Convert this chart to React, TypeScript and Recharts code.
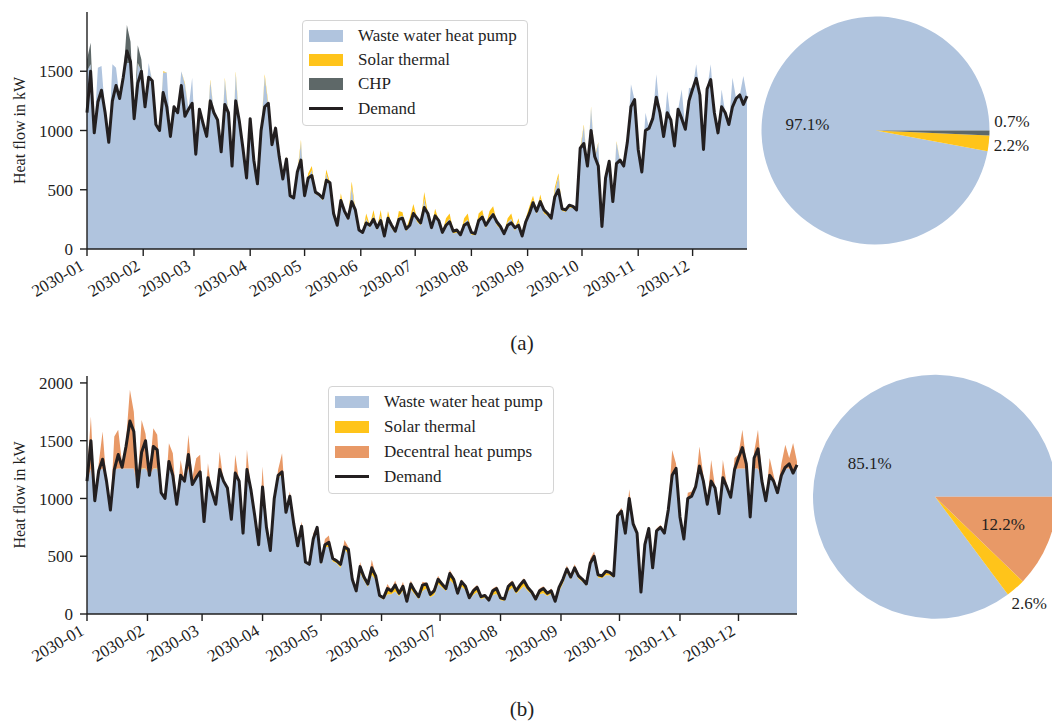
import React from "react";
import {
  ComposedChart,
  Area,
  Line,
  XAxis,
  YAxis,
  PieChart,
  Pie,
  Cell,
} from "recharts";

const FONT = '"Liberation Serif", "Times New Roman", serif';
const INK = "#1f1f1f";

const COLORS = {
  hp: "#b0c4de",
  solar: "#ffc41a",
  chp: "#5e6868",
  decentral: "#e89967",
  demand: "#231f20",
};

// one sample every 2 days, day 0 = 2030-01-01
const SAMPLE_STEP_DAYS = 2;

const monthStartDays = [0, 31, 59, 90, 120, 151, 181, 212, 243, 273, 304, 334];
const monthLabels = [
  "2030-01", "2030-02", "2030-03", "2030-04", "2030-05", "2030-06",
  "2030-07", "2030-08", "2030-09", "2030-10", "2030-11", "2030-12",
];

// heat demand in kW (same in both scenarios)
const demand = [
  1150, 1500, 980, 1240, 1340, 1150, 900, 1250, 1380, 1270,
  1450, 1670, 1580, 1100, 1400, 1500, 1200, 1450, 1420, 1050,
  1000, 1320, 1200, 950, 1200, 1150, 1380, 1120, 1180, 1230,
  800, 1180, 1060, 950, 1250, 1150, 1090, 820, 1220, 1150,
  700, 1250, 1080, 850, 600, 1100, 750, 550, 1000, 1200,
  1230, 880, 1020, 780, 590, 760, 450, 430, 650, 750,
  450, 600, 620, 480, 460, 430, 580, 560, 300, 200,
  410, 320, 260, 400, 330, 160, 140, 220, 200, 250,
  180, 240, 110, 260, 200, 150, 250, 260, 170, 200,
  300, 260, 220, 350, 300, 180, 280, 240, 140, 200,
  230, 150, 160, 120, 200, 220, 140, 130, 240, 270,
  200, 250, 290, 230, 190, 130, 200, 220, 180, 200,
  110, 230, 300, 390, 320, 400, 330, 300, 260, 440,
  500, 340, 330, 370, 360, 330, 850, 890, 700, 1000,
  780, 700, 190, 600, 740, 400, 720, 750, 700, 900,
  1200, 1260, 840, 650, 1000, 1020, 1100, 1280, 1150, 950,
  1150, 1090, 870, 1180, 1100, 1010, 1250, 1350, 1440, 1300,
  840, 1350, 1430, 1150, 980, 1200, 1150, 1050, 1200, 1270,
  1300, 1220, 1290,
];

// scenario (a)
const hpA = [
  1500, 1560, 1000, 1530, 1545, 1150, 900, 1560, 1530, 1270,
  1450, 1570, 1570, 1100, 1565, 1500, 1200, 1570, 1415, 1050,
  1000, 1490, 1490, 950, 1190, 1150, 1500, 1390, 1180, 1445,
  790, 1165, 1060, 940, 1415, 1150, 1070, 820, 1430, 1140,
  700, 1480, 1070, 850, 600, 1080, 750, 550, 985, 1455,
  1210, 880, 995, 800, 590, 755, 435, 430, 620, 900,
  440, 610, 665, 465, 450, 410, 635, 530, 285, 190,
  430, 300, 245, 525, 305, 150, 130, 260, 180, 285,
  160, 280, 100, 275, 175, 135, 270, 280, 150, 220,
  330, 230, 200, 425, 260, 165, 295, 210, 125, 220,
  255, 130, 140, 110, 220, 250, 120, 115, 255, 290,
  175, 275, 310, 200, 170, 115, 225, 255, 155, 230,
  100, 220, 320, 415, 295, 425, 300, 280, 245, 485,
  610, 320, 315, 350, 345, 320, 830, 1035, 695, 1190,
  770, 895, 190, 590, 735, 400, 900, 745, 700, 895,
  1390, 1260, 840, 650, 1150, 1020, 1100, 1475, 1150, 950,
  1333, 1090, 870, 1180, 1347, 1010, 1360, 1350, 1560, 1300,
  840, 1350, 1560, 1150, 980, 1347, 1150, 1050, 1446, 1270,
  1300, 1460, 1290,
];

const solarA = [
  0, 0, 0, 0, 0, 0, 0, 0, 0, 0,
  0, 0, 0, 0, 5, 0, 0, 0, 5, 0,
  0, 10, 0, 0, 10, 0, 0, 10, 0, 0,
  10, 15, 0, 10, 15, 0, 20, 0, 15, 10,
  0, 20, 10, 0, 0, 20, 0, 0, 15, 20,
  20, 0, 25, 10, 0, 25, 15, 0, 30, 20,
  10, 30, 35, 15, 10, 20, 35, 30, 15, 10,
  40, 20, 15, 45, 25, 10, 10, 40, 20, 45,
  20, 50, 10, 45, 25, 15, 50, 30, 20, 40,
  50, 30, 20, 55, 40, 15, 45, 30, 15, 40,
  45, 20, 20, 10, 40, 50, 20, 15, 45, 40,
  25, 45, 50, 30, 20, 15, 35, 45, 25, 30,
  10, 40, 40, 35, 25, 35, 30, 20, 15, 35,
  30, 20, 15, 20, 15, 10, 20, 15, 5, 10,
  10, 5, 0, 10, 5, 0, 10, 5, 0, 5,
  0, 0, 0, 0, 0, 0, 0, 0, 0, 0,
  0, 0, 0, 0, 0, 0, 0, 0, 0, 0,
  0, 0, 0, 0, 0, 0, 0, 0, 0, 0,
  0, 0, 0,
];

const chpA = [
  100, 180, 0, 0, 0, 0, 0, 0, 0, 0,
  0, 320, 180, 0, 150, 100, 0, 0, 0, 0,
  0, 0, 0, 0, 0, 0, 0, 0, 0, 0,
  0, 0, 0, 0, 0, 0, 0, 0, 0, 0,
  0, 0, 0, 0, 0, 0, 0, 0, 0, 0,
  0, 0, 0, 0, 0, 0, 0, 0, 0, 0,
  0, 0, 0, 0, 0, 0, 0, 0, 0, 0,
  0, 0, 0, 0, 0, 0, 0, 0, 0, 0,
  0, 0, 0, 0, 0, 0, 0, 0, 0, 0,
  0, 0, 0, 0, 0, 0, 0, 0, 0, 0,
  0, 0, 0, 0, 0, 0, 0, 0, 0, 0,
  0, 0, 0, 0, 0, 0, 0, 0, 0, 0,
  0, 0, 0, 0, 0, 0, 0, 0, 0, 0,
  0, 0, 0, 0, 0, 0, 0, 0, 0, 0,
  0, 0, 0, 0, 0, 0, 0, 0, 0, 0,
  0, 0, 0, 0, 0, 0, 0, 0, 0, 0,
  0, 0, 0, 0, 0, 0, 0, 0, 0, 0,
  0, 0, 0, 0, 0, 0, 0, 0, 0, 0,
  0, 0, 0,
];

// scenario (b)
const hpB = [
  1150, 1260, 980, 1240, 1260, 1150, 900, 1250, 1260, 1260,
  1260, 1260, 1260, 1100, 1260, 1260, 1200, 1260, 1260, 1050,
  1000, 1260, 1200, 950, 1200, 1150, 1260, 1120, 1180, 1230,
  790, 1165, 1060, 940, 1235, 1150, 1070, 820, 1205, 1140,
  700, 1230, 1070, 850, 600, 1080, 750, 550, 985, 1180,
  1210, 880, 995, 770, 590, 735, 435, 430, 620, 730,
  430, 580, 580, 455, 440, 400, 560, 520, 280, 185,
  360, 290, 235, 340, 295, 145, 125, 170, 170, 195,
  155, 200, 100, 215, 170, 130, 200, 220, 145, 165,
  260, 230, 200, 295, 260, 165, 235, 210, 125, 165,
  190, 130, 140, 110, 165, 175, 120, 115, 200, 230,
  175, 210, 240, 200, 170, 115, 170, 180, 155, 175,
  100, 195, 265, 360, 300, 370, 305, 280, 245, 420,
  480, 315, 310, 335, 335, 315, 830, 880, 690, 980,
  770, 700, 190, 590, 735, 400, 710, 745, 700, 895,
  1200, 1260, 840, 650, 1000, 1020, 1100, 1260, 1150, 950,
  1150, 1090, 870, 1180, 1100, 1010, 1250, 1260, 1260, 1260,
  840, 1260, 1260, 1150, 980, 1200, 1150, 1050, 1200, 1260,
  1260, 1220, 1260,
];

// solar output looks the same in both runs
const solarB = solarA;

const decentralB = [
  50, 450, 0, 60, 320, 0, 0, 286, 334, 40,
  240, 680, 490, 50, 415, 300, 20, 348, 286, 0,
  0, 208, 192, 0, 124, 0, 291, 50, 169, 148,
  0, 125, 0, 0, 156, 0, 0, 0, 158, 0,
  0, 171, 0, 0, 0, 176, 0, 0, 0, 50,
  162, 20, 40, 20, 0, 40, 0, 0, 50, 10,
  20, 40, 65, 20, 20, 20, 45, 30, 15, 15,
  50, 20, 20, 85, 20, 15, 15, 50, 20, 50,
  15, 30, 10, 30, 15, 15, 30, 20, 15, 25,
  20, 10, 10, 30, 20, 10, 20, 10, 10, 15,
  15, 10, 10, 10, 15, 15, 10, 10, 15, 20,
  10, 15, 20, 10, 10, 10, 15, 15, 10, 15,
  10, 15, 15, 25, 15, 25, 15, 10, 10, 25,
  30, 15, 15, 25, 20, 15, 20, 25, 25, 90,
  20, 15, 0, 20, 20, 0, 20, 20, 20, 20,
  220, 40, 20, 10, 50, 40, 20, 190, 50, 10,
  184, 10, 10, 154, 20, 10, 100, 120, 334, 60,
  10, 140, 334, 50, 10, 150, 50, 10, 100, 204,
  90, 260, 60,
];

// annual shares in %
const pieA = [
  { name: "Waste water heat pump", value: 97.1, color: COLORS.hp },
  { name: "Solar thermal", value: 2.2, color: COLORS.solar },
  { name: "CHP", value: 0.7, color: COLORS.chp },
];
const pieB = [
  { name: "Waste water heat pump", value: 85.1, color: COLORS.hp },
  { name: "Solar thermal", value: 2.6, color: COLORS.solar },
  { name: "Decentral heat pumps", value: 12.2, color: COLORS.decentral },
];

const days = demand.map((_, i) => i * SAMPLE_STEP_DAYS);

const dataA = days.map((day, i) => ({
  day,
  hp: hpA[i],
  solar: solarA[i],
  chp: chpA[i],
  demand: demand[i],
}));

const dataB = days.map((day, i) => ({
  day,
  hp: hpB[i],
  solar: solarB[i],
  decentral: decentralB[i],
  demand: demand[i],
}));

const textFont = { fontFamily: FONT };

function MonthTick({ x, y, payload }: any) {
  const label = monthLabels[monthStartDays.indexOf(payload.value)];
  return (
    <g transform={`translate(${x - 2},${y + 11})`}>
      <text
        textAnchor="end"
        transform="rotate(-30)"
        fontSize={17}
        fill={INK}
        style={textFont}
      >
        {label}
      </text>
    </g>
  );
}

const makePieLabel =
  (values: number[], radii: number[], nudges: number[]) => (props: any) => {
    const { cx, cy, midAngle, outerRadius, index } = props;
    const ang = ((midAngle + nudges[index]) * Math.PI) / 180;
    const r = outerRadius * radii[index];
    return (
      <text
        x={cx + r * Math.cos(ang)}
        y={cy - r * Math.sin(ang)}
        textAnchor="middle"
        dominantBaseline="central"
        fontSize={17}
        fill={INK}
        style={textFont}
      >
        {values[index].toFixed(1)}%
      </text>
    );
  };

interface LegendItem {
  label: string;
  color: string;
  line?: boolean;
}

function BoxLegend({
  items,
  left,
  top,
  width,
  rowHeight,
}: {
  items: LegendItem[];
  left: number;
  top: number;
  width: number;
  rowHeight: number;
}) {
  return (
    <div
      style={{
        position: "absolute",
        left,
        top,
        width,
        boxSizing: "border-box",
        padding: "3px 6px 4px 6px",
        border: "1px solid #d4d4d4",
        borderRadius: 4,
        background: "rgba(255,255,255,0.85)",
        fontFamily: FONT,
        fontSize: 17,
        color: INK,
      }}
    >
      {items.map((item) => (
        <div
          key={item.label}
          style={{ display: "flex", alignItems: "center", height: rowHeight }}
        >
          <span
            style={{
              display: "inline-block",
              width: 34,
              height: item.line ? 3 : 12,
              background: item.color,
              marginRight: 15,
            }}
          />
          <span style={{ whiteSpace: "nowrap" }}>{item.label}</span>
        </div>
      ))}
    </div>
  );
}

const axisStroke = { stroke: INK, strokeWidth: 1.4 };
const tickStyle = { fontSize: 17, fill: INK, fontFamily: FONT, style: textFont };
const yLabel = {
  value: "Heat flow in kW",
  angle: -90,
  position: "insideLeft" as const,
  offset: 19,
  style: { textAnchor: "middle", fontSize: 16, fill: INK, fontFamily: FONT },
};
const noMargin = { top: 0, right: 0, bottom: 0, left: 0 };

export default function App() {
  return (
    <div
      style={{
        position: "absolute",
        left: 0,
        top: 0,
        width: 1052,
        height: 724,
        overflow: "hidden",
        background: "#fff",
        fontFamily: FONT,
      }}
    >
      {/* (a) with CHP */}
      <div style={{ position: "absolute", left: 0, top: 0 }}>
        <ComposedChart
          width={760}
          height={310}
          data={dataA}
          margin={{ top: 12, right: 13, bottom: 6, left: 0 }}
        >
          <XAxis
            dataKey="day"
            type="number"
            domain={[0, 364]}
            ticks={monthStartDays}
            interval={0}
            height={55}
            axisLine={axisStroke}
            tickLine={axisStroke}
            tickSize={7}
            tickMargin={2}
            tick={<MonthTick />}
          />
          <YAxis
            width={87}
            domain={[0, 2000]}
            ticks={[0, 500, 1000, 1500]}
            allowDataOverflow
            axisLine={axisStroke}
            tickLine={axisStroke}
            tickSize={7}
            tickMargin={7}
            tick={tickStyle}
            label={yLabel}
          />
          <Area type="linear" dataKey="hp" stackId="s" stroke="none" fill={COLORS.hp} fillOpacity={1} isAnimationActive={false} />
          <Area type="linear" dataKey="solar" stackId="s" stroke="none" fill={COLORS.solar} fillOpacity={1} isAnimationActive={false} />
          <Area type="linear" dataKey="chp" stackId="s" stroke="none" fill={COLORS.chp} fillOpacity={1} isAnimationActive={false} />
          <Line
            type="linear"
            dataKey="demand"
            stroke={COLORS.demand}
            strokeWidth={3}
            strokeLinejoin="round"
            dot={false}
            isAnimationActive={false}
          />
        </ComposedChart>
      </div>
      <BoxLegend
        left={302}
        top={20}
        width={226}
        rowHeight={24.2}
        items={[
          { label: "Waste water heat pump", color: COLORS.hp },
          { label: "Solar thermal", color: COLORS.solar },
          { label: "CHP", color: COLORS.chp },
          { label: "Demand", color: COLORS.demand, line: true },
        ]}
      />
      <div style={{ position: "absolute", left: 750, top: 10 }}>
        <PieChart width={302} height={250} margin={noMargin}>
          <Pie
            data={pieA}
            dataKey="value"
            cx={125.5}
            cy={120.5}
            outerRadius={114}
            startAngle={0}
            endAngle={360}
            stroke="none"
            labelLine={false}
            label={makePieLabel(pieA.map((d) => d.value), [0.6, 1.2, 1.2], [0, 0, 5])}
            isAnimationActive={false}
          >
            {pieA.map((d) => (
              <Cell key={d.name} fill={d.color} />
            ))}
          </Pie>
        </PieChart>
      </div>
      <div
        style={{
          position: "absolute",
          left: 502,
          top: 333,
          width: 40,
          textAlign: "center",
          fontSize: 21,
          lineHeight: 1,
          color: INK,
        }}
      >
        (a)
      </div>

      {/* (b) with decentral heat pumps */}
      <div style={{ position: "absolute", left: 0, top: 364 }}>
        <ComposedChart
          width={810}
          height={311}
          data={dataB}
          margin={{ top: 12, right: 13, bottom: 6, left: 0 }}
        >
          <XAxis
            dataKey="day"
            type="number"
            domain={[0, 364]}
            ticks={monthStartDays}
            interval={0}
            height={55}
            axisLine={axisStroke}
            tickLine={axisStroke}
            tickSize={7}
            tickMargin={2}
            tick={<MonthTick />}
          />
          <YAxis
            width={87}
            domain={[0, 2060]}
            ticks={[0, 500, 1000, 1500, 2000]}
            allowDataOverflow
            axisLine={axisStroke}
            tickLine={axisStroke}
            tickSize={7}
            tickMargin={7}
            tick={tickStyle}
            label={yLabel}
          />
          <Area type="linear" dataKey="hp" stackId="s" stroke="none" fill={COLORS.hp} fillOpacity={1} isAnimationActive={false} />
          <Area type="linear" dataKey="solar" stackId="s" stroke="none" fill={COLORS.solar} fillOpacity={1} isAnimationActive={false} />
          <Area type="linear" dataKey="decentral" stackId="s" stroke="none" fill={COLORS.decentral} fillOpacity={1} isAnimationActive={false} />
          <Line
            type="linear"
            dataKey="demand"
            stroke={COLORS.demand}
            strokeWidth={3}
            strokeLinejoin="round"
            dot={false}
            isAnimationActive={false}
          />
        </ComposedChart>
      </div>
      <BoxLegend
        left={328}
        top={386}
        width={226}
        rowHeight={24.8}
        items={[
          { label: "Waste water heat pump", color: COLORS.hp },
          { label: "Solar thermal", color: COLORS.solar },
          { label: "Decentral heat pumps", color: COLORS.decentral },
          { label: "Demand", color: COLORS.demand, line: true },
        ]}
      />
      <div style={{ position: "absolute", left: 800, top: 370 }}>
        <PieChart width={270} height={260} margin={noMargin}>
          <Pie
            data={pieB}
            dataKey="value"
            cx={135}
            cy={126.7}
            outerRadius={122}
            startAngle={0}
            endAngle={360}
            stroke="none"
            labelLine={false}
            label={makePieLabel(pieB.map((d) => d.value), [0.6, 1.17, 0.6], [0, 0, 0])}
            isAnimationActive={false}
          >
            {pieB.map((d) => (
              <Cell key={d.name} fill={d.color} />
            ))}
          </Pie>
        </PieChart>
      </div>
      <div
        style={{
          position: "absolute",
          left: 502,
          top: 699,
          width: 40,
          textAlign: "center",
          fontSize: 21,
          lineHeight: 1,
          color: INK,
        }}
      >
        (b)
      </div>
    </div>
  );
}
